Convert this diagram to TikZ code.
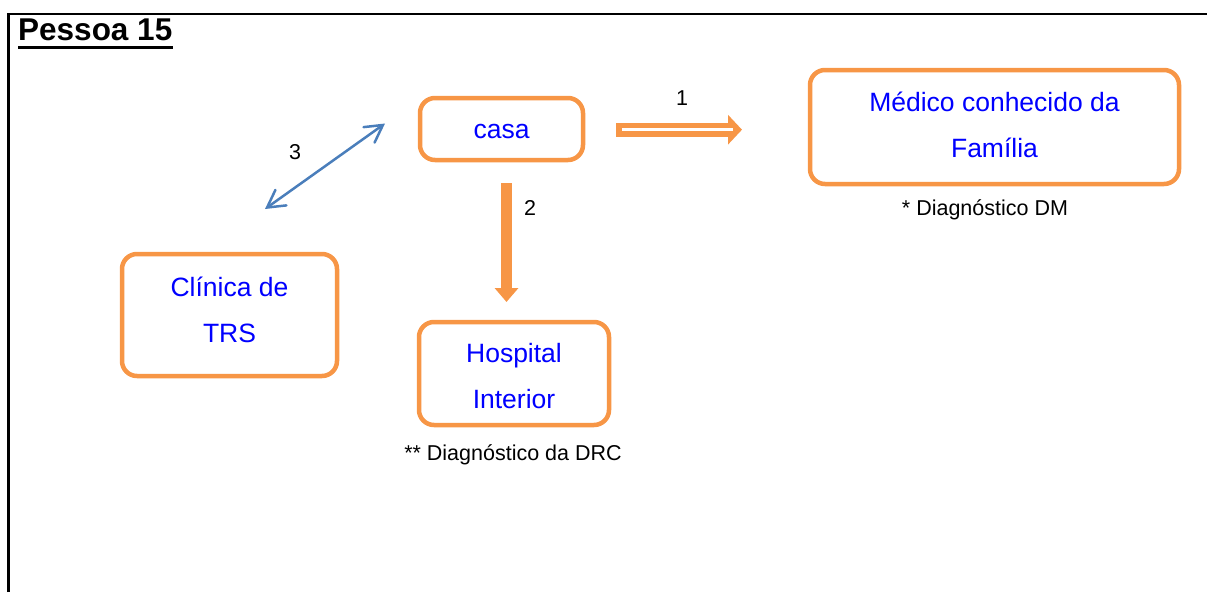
\documentclass[tikz,border=0pt]{standalone}
\usepackage{fontspec}
\setmainfont{Liberation Sans}
\usetikzlibrary{arrows.meta}
\definecolor{boxorange}{HTML}{F79646}
\definecolor{textblue}{HTML}{0000FF}
\definecolor{linkblue}{HTML}{4A7EBB}
\begin{document}
\begin{tikzpicture}[x=1pt,y=-1pt,
  place/.style={draw=boxorange, line width=4.5pt, rounded corners=15pt,
    fill=white, text=textblue, align=center, inner sep=0pt,
    font=\fontsize{26.5}{46}\selectfont},
  note/.style={font=\fontsize{21.5}{24}\selectfont, inner sep=0pt},
  num/.style={font=\fontsize{21.5}{24}\selectfont, inner sep=0pt}]
\useasboundingbox (0,0) rectangle (1207,592);
% page frame (top and left rules)
\draw[line width=2.4pt] (8.3,592) -- (8.3,14) -- (1207,14);
% title
\node[anchor=base west, inner sep=0pt, font=\fontsize{31.5}{34}\selectfont\bfseries]
  (ttl) at (18,40) {Pessoa 15};
\draw[line width=2.8pt] ([yshift=-7.5pt]ttl.base west) -- ([yshift=-7.5pt]ttl.base east);
% places
\node[place, minimum width=163pt, minimum height=62pt, text height=19.5pt] (casa)
  at (501.5,129) {casa};
\node[place, minimum width=369pt, minimum height=114pt, text depth=4pt] (medico)
  at (994.5,127) {Médico conhecido da\\Família};
\node[place, minimum width=215pt, minimum height=122pt, text depth=10pt] (clinica)
  at (229.5,315) {Clínica de\\TRS};
\node[place, minimum width=190pt, minimum height=103pt, text height=69.3pt] (hospital)
  at (514,373.5) {Hospital\\Interior};
% notes
\node[note] (ndm) at (985,210) {* Diagnóstico DM};
\node[note] (ndrc) at (513,455) {** Diagnóstico da DRC};
% arrow 1: hollow arrow from casa towards medico
\coordinate (a1s) at (616,129.7);
\coordinate (a1e) at (742,129.7);
\draw[boxorange, line width=14pt, -{Triangle[width=29pt,length=14pt]}] (a1s) -- (a1e);
\draw[white, line width=3.4pt] ([xshift=6pt]a1s) -- ([xshift=-9pt]a1e);
\node[num] (n1) at (682,98) {1};
% arrow 2: solid arrow from casa down to hospital
\coordinate (a2s) at (506.5,183);
\coordinate (a2e) at (506.5,302);
\draw[boxorange, line width=11pt, -{Triangle[width=23pt,length=14pt]}] (a2s) -- (a2e);
\node[num] (n2) at (530,208) {2};
% arrow 3: two-way link between clinica and casa
\coordinate (a3s) at (265,209);
\coordinate (a3e) at (385,123.5);
\draw[linkblue, line width=2.5pt, line cap=round,
  {Straight Barb[length=17pt,width=19pt,line cap=round]}-{Straight Barb[length=17pt,width=19pt,line cap=round]}]
  (a3s) -- (a3e);
\node[num] (n3) at (295,152) {3};
\end{tikzpicture}
\end{document}
